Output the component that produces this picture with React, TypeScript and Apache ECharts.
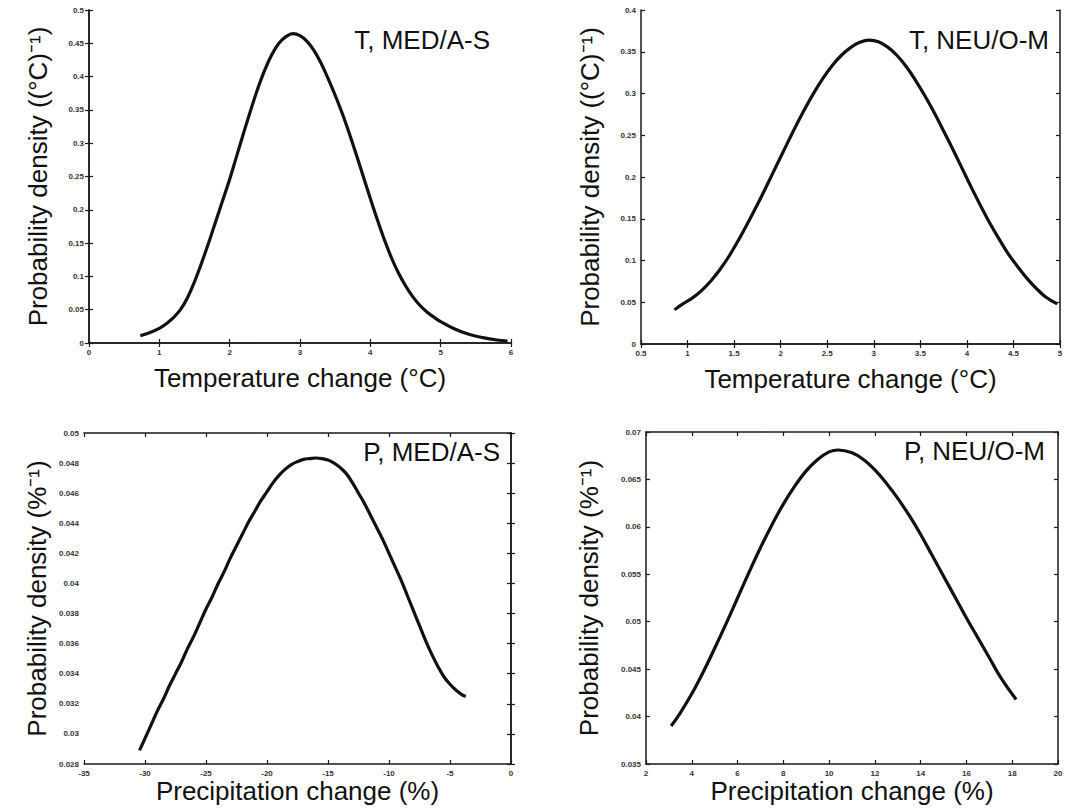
import React, { useEffect, useRef } from "react";
import * as echarts from "echarts";

// Panel 1: Temperature, MED/A-S
const t1Change = [0.73, 0.85, 1.0, 1.1, 1.2, 1.3, 1.4, 1.5, 1.6, 1.7, 1.8, 1.9, 2.0, 2.1, 2.2, 2.3, 2.4, 2.5, 2.6, 2.7, 2.8, 2.9, 3.0, 3.1, 3.2, 3.3, 3.4, 3.5, 3.6, 3.7, 3.8, 3.9, 4.0, 4.1, 4.2, 4.3, 4.4, 4.5, 4.6, 4.7, 4.8, 4.9, 5.0, 5.2, 5.4, 5.6, 5.8, 5.95];
const t1Density = [0.011, 0.015, 0.022, 0.029, 0.038, 0.05, 0.068, 0.092, 0.12, 0.15, 0.182, 0.214, 0.246, 0.281, 0.316, 0.35, 0.382, 0.41, 0.433, 0.45, 0.46, 0.4645, 0.4615, 0.453, 0.439, 0.42, 0.397, 0.372, 0.345, 0.315, 0.283, 0.25, 0.217, 0.185, 0.155, 0.128, 0.105, 0.086, 0.07, 0.057, 0.047, 0.039, 0.032, 0.021, 0.013, 0.008, 0.0045, 0.003];

// Panel 2: Temperature, NEU/O-M
const t2Change = [0.86, 0.95, 1.05, 1.15, 1.25, 1.35, 1.45, 1.55, 1.65, 1.75, 1.85, 1.95, 2.05, 2.15, 2.25, 2.35, 2.45, 2.55, 2.65, 2.75, 2.85, 2.95, 3.05, 3.15, 3.25, 3.35, 3.45, 3.55, 3.65, 3.75, 3.85, 3.95, 4.05, 4.15, 4.25, 4.35, 4.45, 4.55, 4.65, 4.75, 4.85, 4.97];
const t2Density = [0.041, 0.048, 0.055, 0.064, 0.0755, 0.0895, 0.106, 0.125, 0.1455, 0.167, 0.1895, 0.2125, 0.2355, 0.258, 0.2795, 0.2995, 0.3175, 0.333, 0.3455, 0.355, 0.3613, 0.364, 0.362, 0.3555, 0.3455, 0.332, 0.3155, 0.297, 0.277, 0.255, 0.233, 0.21, 0.187, 0.165, 0.144, 0.125, 0.107, 0.092, 0.078, 0.066, 0.056, 0.048];

// Panel 3: Precipitation, MED/A-S
const p1Change = [-30.45, -30.0, -29.5, -29.0, -28.5, -28.0, -27.5, -27.0, -26.5, -26.0, -25.5, -25.0, -24.5, -24.0, -23.5, -23.0, -22.5, -22.0, -21.5, -21.0, -20.5, -20.0, -19.5, -19.0, -18.5, -18.0, -17.5, -17.0, -16.5, -16.0, -15.5, -15.0, -14.5, -14.0, -13.5, -13.0, -12.5, -12.0, -11.5, -11.0, -10.5, -10.0, -9.5, -9.0, -8.5, -8.0, -7.5, -7.0, -6.5, -6.0, -5.5, -5.0, -4.5, -4.0, -3.7];
const p1Density = [0.0289, 0.0297, 0.0306, 0.0315, 0.0323, 0.0332, 0.034, 0.0348, 0.0357, 0.0365, 0.0374, 0.0383, 0.0391, 0.04, 0.0408, 0.0417, 0.0425, 0.0433, 0.0441, 0.0448, 0.0455, 0.0461, 0.0467, 0.0472, 0.0476, 0.0479, 0.0481, 0.04825, 0.0483, 0.04834, 0.0483, 0.0482, 0.048, 0.0477, 0.0473, 0.0467, 0.046, 0.0453, 0.0445, 0.0437, 0.0429, 0.042, 0.0411, 0.0402, 0.0392, 0.0382, 0.0372, 0.0362, 0.0353, 0.0345, 0.0338, 0.0333, 0.0329, 0.0326, 0.0325];

// Panel 4: Precipitation, NEU/O-M
const p2Change = [3.1, 3.5, 4.0, 4.5, 5.0, 5.5, 6.0, 6.5, 7.0, 7.5, 8.0, 8.5, 9.0, 9.5, 10.0, 10.4, 11.0, 11.5, 12.0, 12.5, 13.0, 13.5, 14.0, 14.5, 15.0, 15.5, 16.0, 16.5, 17.0, 17.5, 18.17];
const p2Density = [0.039, 0.0404, 0.0424, 0.0447, 0.0472, 0.0498, 0.0525, 0.0552, 0.0578, 0.0602, 0.0624, 0.0643, 0.0659, 0.0671, 0.0679, 0.0681, 0.0678, 0.0671, 0.066, 0.0646, 0.063, 0.0612, 0.0592, 0.057, 0.0548, 0.0526, 0.0504, 0.0483, 0.0462, 0.0441, 0.0418];

// Axis ranges [min, max, interval]
const xRanges = [[0, 6, 1], [0.5, 5, 0.5], [-35, 0, 5], [2, 20, 2]];
const yRanges = [[0, 0.5, 0.05], [0, 0.4, 0.05], [0.028, 0.05, 0.002], [0.035, 0.07, 0.005]];

const panelTitles = ["T, MED/A-S", "T, NEU/O-M", "P, MED/A-S", "P, NEU/O-M"];
const xNames = ["Temperature change (°C)", "Temperature change (°C)", "Precipitation change (%)", "Precipitation change (%)"];
const yNames = ["Probability density ((°C)⁻¹)", "Probability density ((°C)⁻¹)", "Probability density (%⁻¹)", "Probability density (%⁻¹)"];

const FONT = "'Liberation Sans', Arial, sans-serif";

export default function App() {
  const ref = useRef<HTMLDivElement>(null);

  useEffect(() => {
    document.body.style.margin = "0";
    if (!ref.current) return;
    const chart = echarts.init(ref.current, undefined, { renderer: "svg" });

    const grids = [
      { left: 89, top: 10, width: 422, height: 333 },
      { left: 641, top: 10, width: 419, height: 334 },
      { left: 84, top: 433, width: 427, height: 331 },
      { left: 646, top: 432, width: 412, height: 332 },
    ];
    const xGaps = [22, 22, 13, 13];
    const yGaps = [38, 38, 34, 44];
    const titlePos = [
      { right: 575, top: 27 },
      { right: 16, top: 27 },
      { right: 565, top: 439 },
      { right: 20, top: 438 },
    ];
    const seriesData = [
      t1Change.map((x, i) => [x, t1Density[i]]),
      t2Change.map((x, i) => [x, t2Density[i]]),
      p1Change.map((x, i) => [x, p1Density[i]]),
      p2Change.map((x, i) => [x, p2Density[i]]),
    ];

    const axisLine = { show: true, lineStyle: { color: "#1a1a1a", width: 1.5 } };
    const axisTick = { show: true, inside: true, length: 4, lineStyle: { color: "#1a1a1a", width: 1.2 } };
    const tickLabel = { color: "#333", fontSize: 8, fontWeight: "bold" as const, fontFamily: FONT };
    const nameStyle = { color: "#111", fontSize: 26, fontFamily: FONT };

    const xAxis: any[] = [];
    const yAxis: any[] = [];
    const series: any[] = [];
    grids.forEach((g, i) => {
      const [xmin, xmax, xint] = xRanges[i];
      const [ymin, ymax, yint] = yRanges[i];
      xAxis.push({
        type: "value", gridIndex: i, position: "bottom", min: xmin, max: xmax, interval: xint,
        axisLine, axisTick, splitLine: { show: false },
        axisLabel: { ...tickLabel, margin: 5 },
        name: xNames[i], nameLocation: "middle", nameGap: xGaps[i], nameTextStyle: nameStyle,
      });
      xAxis.push({
        type: "value", gridIndex: i, position: "top", min: xmin, max: xmax, interval: xint,
        axisLine, axisTick, splitLine: { show: false }, axisLabel: { show: false },
      });
      yAxis.push({
        type: "value", gridIndex: i, position: "left", min: ymin, max: ymax, interval: yint,
        axisLine, axisTick, splitLine: { show: false },
        axisLabel: { ...tickLabel, margin: 5 },
        name: yNames[i], nameLocation: "middle", nameGap: yGaps[i], nameTextStyle: nameStyle,
      });
      yAxis.push({
        type: "value", gridIndex: i, position: "right", min: ymin, max: ymax, interval: yint,
        axisLine, axisTick, splitLine: { show: false }, axisLabel: { show: false },
      });
      series.push({
        type: "line", xAxisIndex: i * 2, yAxisIndex: i * 2, data: seriesData[i],
        showSymbol: false, smooth: 0.4, lineStyle: { color: "#111", width: 3.2 },
      });
    });

    chart.setOption({
      animation: false,
      backgroundColor: "#ffffff",
      grid: grids.map((g) => ({ ...g, containLabel: false, outerBoundsMode: "none" })),
      title: panelTitles.map((t, i) => ({
        text: t, ...titlePos[i], padding: 0,
        textStyle: { color: "#111", fontSize: 26, fontWeight: "normal", fontFamily: FONT },
      })),
      xAxis,
      yAxis,
      series,
    });

    return () => chart.dispose();
  }, []);

  return <div ref={ref} style={{ width: 1065, height: 810 }} />;
}
